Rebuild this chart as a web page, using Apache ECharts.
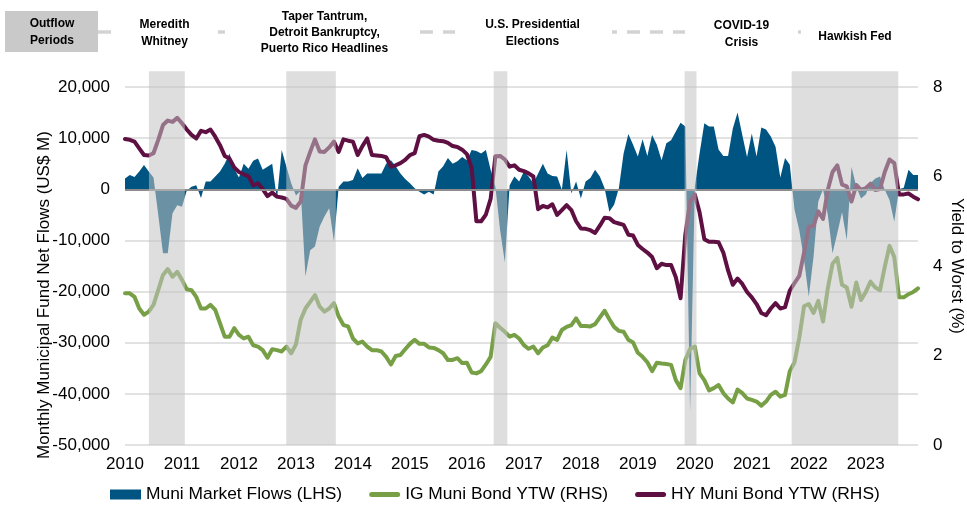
<!DOCTYPE html>
<html><head><meta charset="utf-8">
<script src="https://cdn.jsdelivr.net/npm/echarts@6/dist/echarts.min.js"></script>
<style>html,body{margin:0;padding:0;background:#fff}#c{width:967px;height:508px}</style>
</head><body><div id="c"></div>
<script>
// ---------------- data ----------------
const startYear = 2010; // first monthly observation: Jan 2010
const seriesNames = ['Muni Market Flows (LHS)', 'IG Muni Bond YTW (RHS)', 'HY Muni Bond YTW (RHS)'];

// Monthly municipal fund net flows (US$ M), Jan 2010 .. Dec 2023
const flows = [
  2100, 2800, 2400, 3500, 4750, 3500, 2300, -5000, -12500, -12500, -4700, -3100,
  -3400, -300, 500, 800, -1700, 1500, 1500, 2500, 3500, 5000, 7000, 4000,
  2300, 5000, 4000, 5600, 6000, 3800, 4400, 5000, -2000, 7700, 4400, 1200,
  -1200, -300, -17000, -11900, -11200, -7300, -5300, -3700, -10200, 500, 1500, 1500,
  1800, 4100, 2200, 3100, 3100, 3100, 3100, 5000, 5700, 4500, 3100, 2000,
  1200, 200, -500, -1000, -500, -1000, 3500, 4500, 6100, 5000, 5500, 6300,
  5700, 7700, 7500, 7000, 7700, 3800, 500, -8000, -14300, 800, 2500, 1500,
  3500, 2500, 1200, 3100, 5000, 3100, 2600, 2500, -100, 7700, -800, 1500,
  -1800, 1500, 2200, 3800, 2500, 200, -4400, -3000, 200, 7000, 10800, 8700,
  6400, 9800, 6500, 10600, 8700, 5700, 9000, 9600, 11300, 13000, 12300, -43500,
  500, 7000, 12900, 12300, 12300, 7800, 6500, 6500, 11900, 15000, 10600, 6300,
  10900, 6400, 12100, 11700, 10300, 8300, 2300, 6100, 4800, -4000, -8000, -13800,
  -21000, -13200, -2400, 0, -5000, -12500, -8600, -4500, -9900, 4400, 500, -1800,
  -1000, 1200, 2100, 2500, -100, -2100, -6300, 0, 300, 3800, 2800, 2800
];

// IG muni bond yield to worst (%)
const igYtw = [
  3.39, 3.39, 3.31, 3.05, 2.91, 2.98, 3.13, 3.46, 3.80, 3.93, 3.76, 3.87,
  3.69, 3.48, 3.46, 3.31, 3.05, 3.05, 3.13, 3.02, 2.72, 2.42, 2.42, 2.61,
  2.46, 2.38, 2.42, 2.23, 2.20, 2.12, 1.95, 2.14, 2.12, 2.09, 2.20, 2.05,
  2.25, 2.80, 3.05, 3.20, 3.35, 3.09, 2.98, 3.05, 3.17, 2.87, 2.68, 2.65,
  2.38, 2.27, 2.31, 2.20, 2.12, 2.12, 2.09, 1.97, 1.80, 1.99, 2.01, 2.14,
  2.26, 2.35, 2.26, 2.26, 2.18, 2.17, 2.12, 2.05, 1.90, 1.90, 1.94, 1.83,
  1.84, 1.62, 1.60, 1.65, 1.80, 1.97, 2.72, 2.62, 2.53, 2.42, 2.46, 2.38,
  2.23, 2.15, 2.20, 2.05, 2.18, 2.23, 2.40, 2.35, 2.57, 2.64, 2.68, 2.83,
  2.66, 2.66, 2.65, 2.70, 2.85, 3.00, 2.81, 2.64, 2.55, 2.53, 2.35, 2.29,
  2.06, 1.97, 1.85, 1.65, 1.84, 1.82, 1.81, 1.79, 1.45, 1.27, 1.90, 2.15,
  2.20, 1.60, 1.45, 1.22, 1.27, 1.34, 1.16, 1.04, 0.95, 1.24, 1.16, 1.04,
  1.01, 0.97, 0.88, 0.97, 1.12, 1.19, 1.08, 1.12, 1.65, 1.85, 2.40, 3.10,
  3.15, 2.95, 3.22, 2.76, 3.50, 4.05, 4.18, 3.58, 3.52, 3.09, 3.63, 3.24,
  3.42, 3.65, 3.52, 3.46, 3.98, 4.45, 4.20, 3.30, 3.30, 3.37, 3.42, 3.50
];

// HY muni bond yield to worst (%)
const hyYtw = [
  6.84, 6.82, 6.78, 6.63, 6.48, 6.47, 6.52, 6.82, 7.15, 7.25, 7.22, 7.31,
  7.19, 7.05, 6.93, 6.85, 7.02, 6.99, 7.05, 6.89, 6.70, 6.46, 6.40, 6.20,
  6.10, 6.05, 6.01, 5.80, 5.85, 5.72, 5.56, 5.64, 5.55, 5.53, 5.50, 5.35,
  5.30, 5.44, 6.25, 6.55, 6.83, 6.56, 6.55, 6.65, 6.78, 6.55, 6.83, 6.80,
  6.78, 6.48, 6.68, 6.85, 6.48, 6.47, 6.46, 6.43, 6.22, 6.25, 6.30, 6.37,
  6.48, 6.52, 6.90, 6.93, 6.89, 6.82, 6.80, 6.79, 6.75, 6.68, 6.66, 6.60,
  6.50, 6.20, 5.00, 5.00, 5.15, 5.50, 6.45, 6.46, 6.38, 6.22, 6.25, 6.15,
  6.12, 6.07, 6.00, 5.27, 5.34, 5.31, 5.38, 5.14, 5.25, 5.36, 5.25, 5.00,
  4.84, 4.83, 4.80, 4.74, 4.90, 5.08, 5.07, 4.98, 4.95, 4.92, 4.70, 4.68,
  4.47, 4.38, 4.30, 4.20, 3.95, 4.05, 4.02, 4.02, 3.75, 3.28, 4.70, 5.45,
  5.60, 5.20, 4.60, 4.54, 4.54, 4.53, 4.30, 3.90, 3.58, 3.72, 3.60, 3.42,
  3.30, 3.15, 2.95, 2.90, 3.05, 3.17, 3.05, 3.08, 3.45, 3.62, 3.78, 4.30,
  4.88, 4.90, 5.22, 5.05, 5.70, 6.10, 6.25, 5.82, 5.78, 5.44, 5.81, 5.70,
  5.74, 5.84, 5.70, 5.72, 6.10, 6.38, 6.30, 5.60, 5.60, 5.62, 5.55, 5.49
];

// Outflow periods (start, end) in fractional years
const outflowPeriods = [
  [2010.42, 2011.05],
  [2012.83, 2013.70],
  [2016.47, 2016.71],
  [2019.82, 2020.03],
  [2021.70, 2023.57]
];
const periodLabels = [
  'Meredith\nWhitney',
  'Taper Tantrum,\nDetroit Bankruptcy,\nPuerto Rico Headlines',
  'U.S. Presidential\nElections',
  'COVID-19\nCrisis',
  'Hawkish Fed'
];
const leftTicks = [-50000, -40000, -30000, -20000, -10000, 0, 10000, 20000];
const rightTicks = [0, 2, 4, 6, 8];

// ---------------- chart ----------------
const FONT = "'Liberation Sans', Arial, Helvetica, sans-serif";
const toXY = arr => arr.map((v, i) => [startYear + i / 12, v]);
const xMax = startYear + (flows.length - 1) / 12;

// annotation header layout (pixel positions of header boxes)
const headerBoxes = [[111, 218, 33], [225, 414, 33], [455, 612, 33], [685, 798, 34], [805, 905, 37]];
const headerGraphics = [
  { type: 'line', shape: { x1: 98, y1: 32, x2: 900, y2: 32 },
    style: { stroke: '#d3d3d3', lineWidth: 3.3, lineDash: [13, 10] }, z: 1 },
  { type: 'rect', shape: { x: 5, y: 11, width: 93, height: 41 }, style: { fill: '#c9c9c9' }, z: 2 },
  { type: 'text', x: 52, y: 32, z: 3,
    style: { text: 'Outflow\nPeriods', fill: '#000', font: 'bold 12px ' + FONT, lineHeight: 17,
             textAlign: 'center', textVerticalAlign: 'middle' } }
];
headerBoxes.forEach((b, k) => {
  headerGraphics.push({ type: 'rect', shape: { x: b[0], y: 4, width: b[1] - b[0], height: 58 },
    style: { fill: '#fff' }, z: 2 });
  headerGraphics.push({ type: 'text', x: (b[0] + b[1]) / 2 + (k === 1 ? 5 : k === 2 ? -1 : 0), y: b[2], z: 3,
    style: { text: periodLabels[k], fill: '#000', font: 'bold 12px ' + FONT,
             lineHeight: k === 1 ? 16 : 17, textAlign: 'center', textVerticalAlign: 'middle' } });
});
// axis titles
headerGraphics.push({ type: 'text', x: 44, y: 295, rotation: Math.PI / 2, z: 3,
  style: { text: 'Monthly Municipal Fund Net Flows (US$ M)', fill: '#000', font: '17px ' + FONT,
           textAlign: 'center', textVerticalAlign: 'middle' } });
headerGraphics.push({ type: 'text', x: 957, y: 266, rotation: -Math.PI / 2, z: 3,
  style: { text: 'Yield to Worst (%)', fill: '#000', font: '17px ' + FONT,
           textAlign: 'center', textVerticalAlign: 'middle' } });

const chart = echarts.init(document.getElementById('c'), null, { renderer: 'canvas' });
chart.setOption({
  animation: false,
  backgroundColor: '#fff',
  textStyle: { fontFamily: FONT },
  grid: { left: 125, right: 49, top: 87, bottom: 63 },
  graphic: headerGraphics,
  legend: {
    left: 110, top: 486, padding: 0, itemWidth: 31, itemHeight: 10, itemGap: 27,
    textStyle: { fontSize: 17.4, color: '#000', fontFamily: FONT },
    itemStyle: { borderWidth: 0 },
    data: [
      { name: seriesNames[0], icon: 'rect' },
      { name: seriesNames[1], icon: 'path://M2.5,0H28.5A2.5,2.5,0,0,1,28.5,5H2.5A2.5,2.5,0,0,1,2.5,0Z' },
      { name: seriesNames[2], icon: 'path://M2.5,0H28.5A2.5,2.5,0,0,1,28.5,5H2.5A2.5,2.5,0,0,1,2.5,0Z' }
    ]
  },
  xAxis: {
    type: 'value', min: startYear, max: xMax, interval: 1,
    axisLine: { show: false }, axisTick: { show: false }, splitLine: { show: false },
    axisLabel: { fontSize: 17, color: '#000', margin: 11, showMaxLabel: false,
                 formatter: v => Number.isInteger(v) ? String(v) : '' }
  },
  yAxis: [
    { type: 'value', min: leftTicks[0], max: leftTicks[leftTicks.length - 1], interval: 10000,
      axisLine: { show: false }, axisTick: { show: false },
      splitLine: { lineStyle: { color: '#d9d9d9', width: 1.5 } },
      axisLabel: { fontSize: 17, color: '#000', margin: 15,
                   formatter: v => v.toLocaleString('en-US') } },
    { type: 'value', min: rightTicks[0], max: rightTicks[rightTicks.length - 1], interval: 2,
      position: 'right',
      axisLine: { show: false }, axisTick: { show: false }, splitLine: { show: false },
      axisLabel: { fontSize: 17, color: '#000', margin: 15 } }
  ],
  series: [
    { name: seriesNames[0], type: 'line', yAxisIndex: 0, data: toXY(flows),
      symbol: 'none', z: 2, lineStyle: { width: 0 },
      itemStyle: { color: '#005482' },
      areaStyle: { color: '#005482', opacity: 1 },
      markLine: { silent: true, symbol: ['none', 'none'], label: { show: false },
                  lineStyle: { color: '#8c8c8c', width: 2, type: 'solid' },
                  emphasis: { disabled: true }, data: [{ yAxis: 0 }] } },
    { name: seriesNames[1], type: 'line', yAxisIndex: 1, data: toXY(igYtw),
      symbol: 'none', z: 3, itemStyle: { color: '#77a046' },
      lineStyle: { color: '#77a046', width: 4, cap: 'round', join: 'round' } },
    { name: seriesNames[2], type: 'line', yAxisIndex: 1, data: toXY(hyYtw),
      symbol: 'none', z: 4, itemStyle: { color: '#5f1043' },
      lineStyle: { color: '#5f1043', width: 4, cap: 'round', join: 'round' } },
    { name: 'Outflow Periods', type: 'custom', xAxisIndex: 0, yAxisIndex: 0, z: 6, silent: true,
      data: outflowPeriods,
      renderItem: (params, api) => {
        const p0 = api.coord([api.value(0), 23100]);
        const p1 = api.coord([api.value(1), leftTicks[0]]);
        return { type: 'rect',
                 shape: { x: p0[0], y: p0[1], width: p1[0] - p0[0], height: p1[1] - p0[1] },
                 style: { fill: 'rgba(195,195,195,0.55)' } };
      } }
  ]
});
</script>
</body></html>
